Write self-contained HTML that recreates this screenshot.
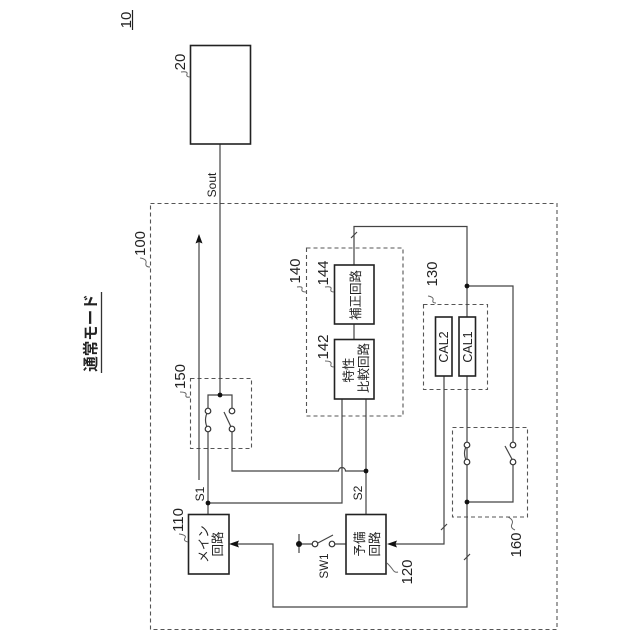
<!DOCTYPE html>
<html><head><meta charset="utf-8"><style>
html,body{margin:0;padding:0;background:#fff}
svg{display:block}
text{font-family:"Liberation Sans","Noto Sans CJK JP",sans-serif;fill:#222;text-anchor:middle}
.l{fill:none;stroke:#444;stroke-width:1.2}
.b{fill:#fff;stroke:#222;stroke-width:1.6}
.d{fill:none;stroke:#555;stroke-width:1.1;stroke-dasharray:4 3}
.c{fill:#fff;stroke:#333;stroke-width:1.2}
.s{fill:none;stroke:#666;stroke-width:1}
</style></head><body>
<svg width="640" height="640" viewBox="0 0 640 640" xmlns="http://www.w3.org/2000/svg">
<rect class="d" x="150.5" y="203.5" width="406.5" height="426"/>
<rect class="d" x="190.5" y="378.5" width="61" height="70"/>
<rect class="d" x="306.5" y="248" width="96.5" height="168"/>
<rect class="d" x="423.5" y="304.5" width="64" height="85"/>
<rect class="d" x="452.5" y="427.5" width="75" height="89.5"/>

<path class="l" d="M220 144V395M208 411V395H232V411M208 429V515M232 429V471H338.5a3.5 3.5 0 0 1 7 0H366M208 503H342V399M366 399V514"/>
<path class="l" d="M199 480V240"/>
<path d="M199 234l-3.5 9.500 3.500-1.500 3.500 1.500z" fill="#111"/>
<path class="l" d="M354 265V226.500H467V607H273V544H236M354 324V339M467 286H513V445M513 462V502H467M444 376V544H394M332 544H346M299 544H315M299 534V553"/>
<path d="M229 544l10-3.500-1.500 3.500 1.500 3.500z" fill="#111"/>
<path d="M387 544l10-3.500-1.500 3.500 1.500 3.500z" fill="#111"/>
<path class="l" d="M208 411Q203 420 208 429M467 445Q462 453 467 462M224 412L232 429M505 446L513 461M316 544L333 535"/>
<path class="l" d="M351 238L357 232M441 530L447 524M464 560L470 554"/>
<circle cx="220" cy="395" r="2.400" fill="#111"/>
<circle cx="208" cy="503" r="2.400" fill="#111"/>
<circle cx="366" cy="471" r="2.400" fill="#111"/>
<circle cx="467" cy="286" r="2.400" fill="#111"/>
<circle cx="467" cy="502" r="2.400" fill="#111"/>
<circle cx="299" cy="544" r="3" fill="#111"/>
<circle class="c" cx="208" cy="411" r="2.800"/><circle class="c" cx="208" cy="429" r="2.800"/>
<circle class="c" cx="232" cy="411" r="2.800"/><circle class="c" cx="232" cy="429" r="2.800"/>
<circle class="c" cx="467" cy="445" r="2.800"/><circle class="c" cx="467" cy="462" r="2.800"/>
<circle class="c" cx="513" cy="445" r="2.800"/><circle class="c" cx="513" cy="462" r="2.800"/>
<circle class="c" cx="315" cy="544" r="2.800"/><circle class="c" cx="332" cy="544" r="2.800"/>

<rect class="b" x="190.500" y="45.500" width="60" height="98.500"/>
<rect class="b" x="188.500" y="514.500" width="40.500" height="59.500"/>
<rect class="b" x="346" y="514.500" width="40" height="59.500"/>
<rect class="b" x="334.500" y="265" width="39.500" height="59"/>
<rect class="b" x="334.500" y="339.500" width="39.500" height="59.500"/>
<rect class="b" x="435.500" y="317" width="16.500" height="59"/>
<rect class="b" x="459" y="317" width="16.500" height="59"/>

<path class="s" d="M190 77Q186 77 187 74T181 72M188 542Q183 541 185 538T179 534M387 563Q391 567 393 570T398 572M334 292Q330 292 331 289T325 287M334 367Q330 367 331 364T325 361M306 292Q301 292 302 289T297 287M436 303Q432 303 433 300T428 296M190 397Q185 398 186 395T180 392M150 267Q145 267 146 263T140 258M508 517Q514 520 512 524T515 530"/>

<text transform="translate(131,20) rotate(-90)" font-size="15">10</text>
<path d="M132.500 10V30" stroke="#222" stroke-width="1.200"/>
<text transform="translate(185,62) rotate(-90)" font-size="15">20</text>
<text transform="translate(216,185) rotate(-90)" font-size="12">Sout</text>
<text transform="translate(145,243.500) rotate(-90)" font-size="15">100</text>
<text transform="translate(183,520) rotate(-90)" font-size="15">110</text>
<text transform="translate(412,572) rotate(-90)" font-size="15">120</text>
<text transform="translate(437,274) rotate(-90)" font-size="15">130</text>
<text transform="translate(300,271) rotate(-90)" font-size="15">140</text>
<text transform="translate(328,347) rotate(-90)" font-size="15">142</text>
<text transform="translate(328,273) rotate(-90)" font-size="15">144</text>
<text transform="translate(185,376.500) rotate(-90)" font-size="15">150</text>
<text transform="translate(521,545) rotate(-90)" font-size="15">160</text>
<text transform="translate(204,494) rotate(-90)" font-size="12">S1</text>
<text transform="translate(362,493) rotate(-90)" font-size="12">S2</text>
<text transform="translate(328,566) rotate(-90)" font-size="11.500">SW1</text>
<text transform="translate(448,347) rotate(-90)" font-size="12.500">CAL2</text>
<text transform="translate(472,347) rotate(-90)" font-size="12.500">CAL1</text>
<text transform="translate(208,544) rotate(-90)" font-size="12.500">メイン</text>
<text transform="translate(222,544) rotate(-90)" font-size="12.500">回路</text>
<text transform="translate(364,544) rotate(-90)" font-size="12.500">予備</text>
<text transform="translate(379,544) rotate(-90)" font-size="12.500">回路</text>
<text transform="translate(360,295) rotate(-90)" font-size="12.500">補正回路</text>
<text transform="translate(353,370) rotate(-90)" font-size="12.500">特性</text>
<text transform="translate(368,368) rotate(-90)" font-size="12.500">比較回路</text>
<text transform="translate(96,333) rotate(-90)" font-size="15.500" font-weight="bold">通常モード</text>
<path d="M101.500 292V373" stroke="#333" stroke-width="1.300"/>
</svg>
</body></html>
